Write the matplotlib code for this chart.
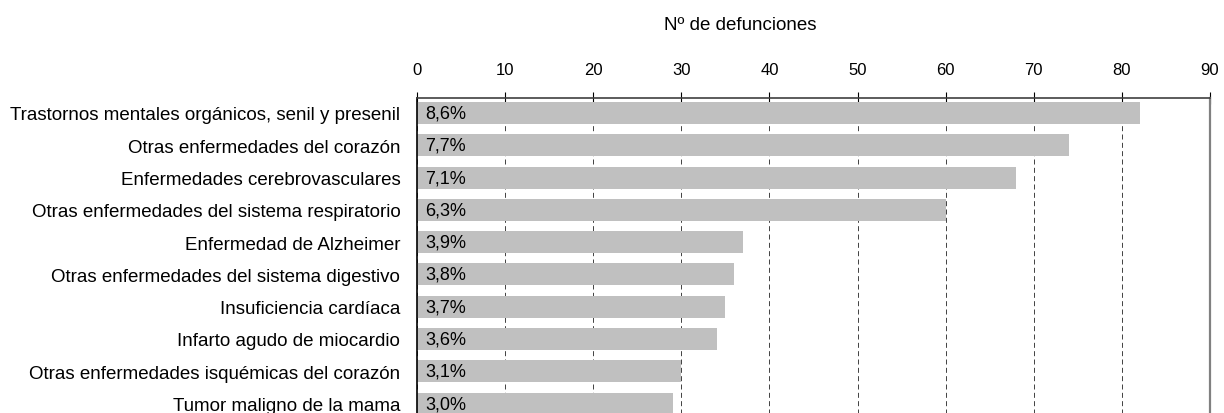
import matplotlib
matplotlib.use("Agg")
import matplotlib.pyplot as plt

## data
causas = ["Trastornos mentales orgánicos, senil y presenil",
          "Otras enfermedades del corazón",
          "Enfermedades cerebrovasculares",
          "Otras enfermedades del sistema respiratorio",
          "Enfermedad de Alzheimer",
          "Otras enfermedades del sistema digestivo",
          "Insuficiencia cardíaca",
          "Infarto agudo de miocardio",
          "Otras enfermedades isquémicas del corazón",
          "Tumor maligno de la mama"]
defunciones = [82, 74, 68, 60, 37, 36, 35, 34, 30, 29]
porcentajes = ["8,6%", "7,7%", "7,1%", "6,3%", "3,9%", "3,8%", "3,7%", "3,6%", "3,1%", "3,0%"]
xticks = list(range(0, 91, 10))

plt.rcParams['font.family'] = ['Liberation Sans', 'DejaVu Sans']

fig = plt.figure(figsize=[12.24, 4.14], dpi=100)
ax = fig.add_axes([0.3407, -0.024, 0.6479, 0.785])

y = list(range(len(causas)))
ax.barh(y, defunciones, height=0.68, color='#C0C0C0', zorder=2)
for yi, v, p in zip(y, defunciones, porcentajes):
    ax.annotate(p, xy=(0, yi), xytext=(6, 0), textcoords='offset points',
                va='center', ha='left', fontsize=13, zorder=3)

ax.set_xlim(0, 90)
ax.set_ylim(9.6, -0.465)
ax.set_xticks(xticks)
ax.set_yticks(y)
ax.set_yticklabels(causas, fontsize=13.5)
ax.xaxis.tick_top()
ax.tick_params(axis='x', direction='inout', length=8, width=0.8, pad=11, labelsize=12)
ax.tick_params(axis='y', length=0, pad=12)
ax.grid(axis='x', linestyle=(0, (6, 4)), color='#222222', linewidth=0.6, zorder=1)
ax.set_axisbelow(True)

ax.spines['bottom'].set_visible(False)
ax.spines['left'].set_color('black')
ax.spines['left'].set_linewidth(1.2)
ax.spines['top'].set_color('#404040')
ax.spines['top'].set_linewidth(1.2)
ax.spines['right'].set_color('#808080')
ax.spines['right'].set_linewidth(1.6)

fig.text(740 / 1224, 1 - 26 / 414, 'Nº de defunciones', ha='center', va='center', fontsize=13.5)

fig.savefig('out.png', dpi=100)
